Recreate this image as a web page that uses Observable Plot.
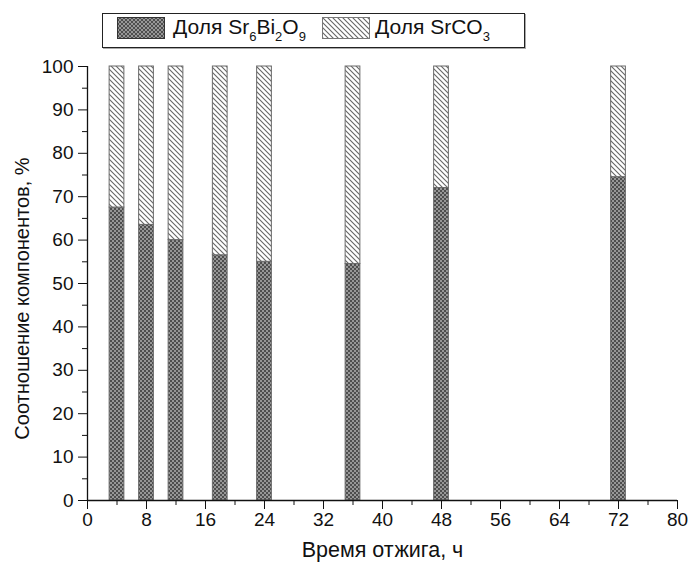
<!DOCTYPE html>
<html><head><meta charset="utf-8">
<script src="https://cdn.jsdelivr.net/npm/d3@7"></script>
<script src="https://cdn.jsdelivr.net/npm/@observablehq/plot@0.6"></script>
<style>
body{margin:0;background:#fff;}
#wrap{position:relative;width:694px;height:569px;font-family:"Liberation Sans",Arial,sans-serif;}
#legend{position:absolute;left:102px;top:13px;width:423px;height:35px;border:1px solid #222;box-shadow:1px 1px 0 #aaa;background:#fff;box-sizing:border-box;}
.sw{position:absolute;top:3px;width:48px;height:22px;box-sizing:border-box;}
.lt{position:absolute;top:2px;font-size:21px;line-height:22px;color:#111;white-space:nowrap;}
.lt sub{font-size:13px;vertical-align:-7px;line-height:0;}
</style></head>
<body><div id="wrap"><div id="chart"></div>
<div id="legend"></div></div>
<script>
const times = [4, 8, 12, 18, 24, 36, 48, 72];
const shareSrBiO = [67.5, 63.5, 60, 56.5, 55, 54.5, 72, 74.5];
const shareSrCO3 = [32.5, 36.5, 40, 43.5, 45, 45.5, 28, 25.5];
const seriesNames = ["Доля Sr6Bi2O9", "Доля SrCO3"];
const xTicks = [0, 8, 16, 24, 32, 40, 48, 56, 64, 72, 80];
const xMinor = [4, 12, 20, 28, 36, 44, 52, 60, 68, 76];
const yTicks = [0, 10, 20, 30, 40, 50, 60, 70, 80, 90, 100];
const yMinor = [5, 15, 25, 35, 45, 55, 65, 75, 85, 95];
const xLabel = "Время отжига, ч";
const yLabel = "Соотношение компонентов, %";

const rows = [];
times.forEach((t, i) => {
  rows.push({t, s: seriesNames[0], y1: 0, y2: shareSrBiO[i]});
  rows.push({t, s: seriesNames[1], y1: shareSrBiO[i], y2: shareSrBiO[i] + shareSrCO3[i]});
});
const fills = {[seriesNames[0]]: "url(#pchk)", [seriesNames[1]]: "url(#phatch)"};
const half = 1;

const font = "Liberation Sans, Arial, sans-serif";
const svg = Plot.plot({
  width: 694, height: 569,
  marginLeft: 87, marginRight: 17, marginTop: 66, marginBottom: 69,
  style: {fontFamily: font, fontSize: "19px", color: "#111", background: "#fff"},
  x: {domain: [0, 80]},
  y: {domain: [0, 100]},
  marks: [
    Plot.rectY(rows, {x1: d => d.t - half, x2: d => d.t + half, y1: "y1", y2: "y2",
      fill: d => fills[d.s], stroke: "#6a6a6a", strokeWidth: 1}),
    Plot.axisX(xTicks, {tickSize: 9, tickPadding: 3, label: null, stroke: "#111", fill: "#111"}),
    Plot.axisX(xMinor, {tickSize: 5, tickFormat: () => "", label: null, stroke: "#111"}),
    Plot.axisY(yTicks, {tickSize: 9, tickPadding: 5, label: null, stroke: "#111", fill: "#111"}),
    Plot.axisY(yMinor, {tickSize: 5, tickFormat: () => "", label: null, stroke: "#111"}),
    Plot.ruleY([0], {stroke: "#111", strokeWidth: 1.3}),
    Plot.ruleX([0], {stroke: "#111", strokeWidth: 1.3}),
    Plot.text([xLabel], {frameAnchor: "bottom", dy: 56, fontSize: 21.5, fill: "#111"}),
    Plot.text([yLabel], {frameAnchor: "left", textAnchor: "middle", dx: -65, dy: 15, rotate: -90, fontSize: 20, fill: "#111"})
  ]
});
const defs = d3.select(svg).insert("defs", ":first-child");
const pc = defs.append("pattern").attr("id", "pchk").attr("width", 4).attr("height", 4).attr("patternUnits", "userSpaceOnUse");
pc.append("rect").attr("width", 4).attr("height", 4).attr("fill", "#4e4e4e");
pc.append("rect").attr("width", 2).attr("height", 2).attr("fill", "#979797");
pc.append("rect").attr("x", 2).attr("y", 2).attr("width", 2).attr("height", 2).attr("fill", "#979797");
const ph = defs.append("pattern").attr("id", "phatch").attr("width", 5).attr("height", 5).attr("patternUnits", "userSpaceOnUse");
ph.append("rect").attr("width", 5).attr("height", 5).attr("fill", "#fff");
ph.append("path").attr("d", "M0,0L5,5M-1,4L1,6M4,-1L6,1").attr("stroke", "#666").attr("stroke-width", 1.1);
document.getElementById("chart").appendChild(svg);

// legend
const lg = document.getElementById("legend");
const items = [
  {sw: 14, tx: 70, fill: "url(#pchk)", border: "#333", html: "Доля Sr<sub>6</sub>Bi<sub>2</sub>O<sub>9</sub>"},
  {sw: 219, tx: 272, fill: "url(#phatch)", border: "#777", html: "Доля SrCO<sub>3</sub>"}
];
items.forEach(it => {
  const s = document.createElementNS("http://www.w3.org/2000/svg", "svg");
  s.setAttribute("class", "sw");
  s.style.left = it.sw + "px";
  s.setAttribute("width", 48); s.setAttribute("height", 22);
  s.innerHTML = `<rect x="0.5" y="0.5" width="47" height="21" fill="${it.fill}" stroke="${it.border}"/>`;
  lg.appendChild(s);
  const t = document.createElement("div");
  t.className = "lt"; t.style.left = it.tx + "px"; t.innerHTML = it.html;
  lg.appendChild(t);
});
</script></body></html>
